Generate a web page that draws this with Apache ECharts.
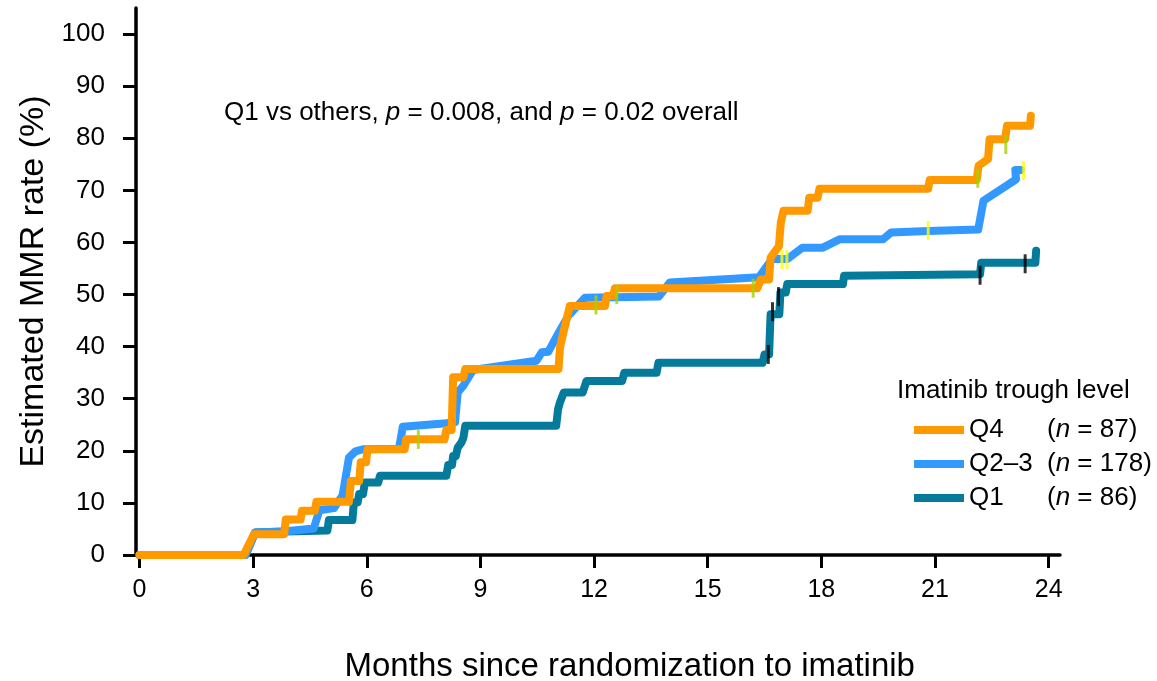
<!DOCTYPE html>
<html>
<head>
<meta charset="utf-8">
<script src="https://cdn.jsdelivr.net/npm/echarts@6.0.0/dist/echarts.min.js"></script>
<style>
  html, body { margin: 0; padding: 0; background: #fff; }
  #chart { width: 1157px; height: 681px; }
</style>
</head>
<body>
<div id="chart"></div>
<script>
// Cumulative MMR rate by imatinib trough-level quartile
const groups = ['Q4', 'Q2–3', 'Q1'];
const groupN = [87, 178, 86];
const xTicks = [0, 3, 6, 9, 12, 15, 18, 21, 24];
const yTicks = [0, 10, 20, 30, 40, 50, 60, 70, 80, 90, 100];

// Q4 curve (months, estimated MMR %)
const q4Months = [0, 2.75, 3.02, 3.82, 3.86, 4.25, 4.29, 4.63, 4.67, 5.53,
  5.58, 5.8, 5.84, 5.98, 6.02, 7.0, 7.04, 8.05, 8.1, 8.24,
  8.28, 8.55, 8.6, 11.06, 11.1, 11.2, 11.3, 11.36, 12.29, 12.33,
  12.5, 12.55, 16.31, 16.4, 16.62, 16.66, 16.88, 16.93, 17.0, 17.64,
  17.68, 17.9, 17.95, 20.82, 20.86, 22.1, 22.15, 22.4, 22.44, 22.85,
  22.9, 23.51, 23.53];
const q4Rates = [0, 0, 4.0, 4.0, 6.8, 6.8, 8.5, 8.5, 10.2, 10.2,
  14.2, 14.2, 17.8, 17.8, 20.3, 20.3, 22.2, 22.2, 24.0, 24.0,
  34.1, 34.1, 35.7, 35.7, 39.8, 43.0, 46.0, 47.8, 47.8, 49.7,
  49.7, 51.2, 51.2, 52.9, 52.9, 57.1, 59.3, 63.8, 66.1, 66.1,
  68.6, 68.6, 70.3, 70.3, 72.0, 72.0, 74.7, 76.0, 79.8, 79.8,
  82.4, 82.4, 84.3];

// Q2–3 curve
const q23Months = [0, 2.8, 3.05, 3.8, 4.6, 4.75, 5.13, 5.36, 5.53, 5.7,
  5.9, 6.85, 6.95, 8.1, 8.33, 8.4, 8.55, 8.8, 10.48, 10.62,
  10.79, 11.06, 11.32, 11.76, 13.71, 14.0, 16.35, 16.7, 17.1, 17.5,
  18.04, 18.48, 19.63, 19.84, 20.82, 22.14, 22.28, 23.14, 23.12, 23.27];
const q23Rates = [0, 0, 4.3, 4.5, 5.1, 8.6, 9.0, 11.4, 18.7, 19.9,
  20.3, 20.4, 24.6, 25.3, 25.5, 31.2, 32.5, 35.5, 37.3, 38.9,
  39.0, 42.6, 45.9, 49.4, 49.6, 52.3, 53.3, 56.8, 56.8, 59.0,
  59.0, 60.6, 60.6, 61.9, 62.2, 62.5, 68.0, 72.1, 73.9, 73.9];

// Q1 curve
const q1Months = [0, 2.8, 3.05, 3.85, 3.9, 4.96, 5.0, 5.62, 5.66, 5.76,
  5.8, 5.9, 5.95, 6.3, 6.35, 8.1, 8.15, 8.25, 8.28, 8.35,
  8.4, 8.5, 8.55, 8.6, 11.0, 11.05, 11.1, 11.2, 11.7, 11.8,
  12.74, 12.8, 13.65, 13.7, 16.45, 16.5, 16.62, 16.66, 16.89, 16.92,
  17.06, 17.1, 18.57, 18.6, 22.19, 22.22, 23.65, 23.67];
const q1Rates = [0, 0, 4.3, 4.5, 4.7, 4.7, 6.7, 6.7, 10.1, 10.1,
  11.7, 11.7, 13.9, 13.9, 15.2, 15.2, 17.3, 17.3, 19.0, 19.0,
  20.6, 21.6, 22.5, 24.8, 24.8, 28.0, 29.3, 31.2, 31.2, 33.4,
  33.4, 35.0, 35.0, 36.9, 36.9, 38.5, 38.5, 46.2, 46.2, 50.4,
  50.4, 52.0, 52.0, 53.6, 53.9, 56.1, 56.1, 58.4];

// Censored observations
const q4CensorMonths = [7.36, 12.05, 12.6, 16.2, 22.13, 22.87];
const q4CensorRates = [22.2, 48.0, 50.0, 51.2, 72.3, 78.8];
const q23CensorMonths = [16.96, 17.09, 20.82, 23.34];
const q23CensorRates = [56.7, 56.7, 62.3, 73.8];
const q1CensorMonths = [16.6, 16.71, 16.87, 22.19, 23.38];
const q1CensorRates = [38.5, 46.7, 49.6, 53.7, 55.9];

const FONT = '"Liberation Sans", Arial, Helvetica, sans-serif';
const COLORS = { 'Q4': '#ff9900', 'Q2–3': '#3399ff', 'Q1': '#057b9c' };
const pairs = (t, v) => t.map((m, i) => [m, v[i]]);

function curve(name, t, v) {
  return {
    name, type: 'line', data: pairs(t, v),
    showSymbol: false, symbol: 'none', silent: true,
    lineStyle: { color: COLORS[name], width: 8, join: 'round', cap: 'round' },
    itemStyle: { color: COLORS[name] }
  };
}
function censor(name, t, v, color) {
  return {
    name, type: 'scatter', data: pairs(t, v), z: 5, silent: true,
    symbol: 'rect', symbolSize: [3, 19],
    itemStyle: { color }
  };
}

const rt = (extra) => Object.assign({ fontFamily: FONT, fontSize: 26, fontWeight: 'normal', color: '#000' }, extra || {});

const chart = echarts.init(document.getElementById('chart'), null, { renderer: 'canvas' });
chart.setOption({
  animation: false,
  backgroundColor: '#ffffff',
  textStyle: { fontFamily: FONT, color: '#000' },
  title: [
    {
      left: 219, top: 95,
      text: '{r|Q1 vs others, }{i|p}{r| = 0.008, and }{i|p}{r| = 0.02 overall}',
      textStyle: {
        fontWeight: 'normal',
        rich: {
          r: rt({ fontSize: 26 }),
          i: rt({ fontSize: 26, fontStyle: 'italic' })
        }
      }
    },
    {
      left: 892, top: 373,
      text: 'Imatinib trough level',
      textStyle: rt({ fontSize: 26 })
    }
  ],
  legend: {
    data: groups,
    orient: 'vertical',
    left: 909, top: 412,
    itemWidth: 50, itemHeight: 8, itemGap: 8,
    icon: 'rect',
    selectedMode: false,
    formatter: name => {
      const k = groups.indexOf(name);
      return '{a|' + name + '}{b|(}{i|n}{b| = ' + groupN[k] + ')}';
    },
    textStyle: {
      fontFamily: FONT, fontSize: 26, color: '#000',
      rich: {
        a: rt({ width: 78, lineHeight: 28 }),
        b: rt({ lineHeight: 28 }),
        i: rt({ fontStyle: 'italic', lineHeight: 28 })
      }
    }
  },
  grid: { left: 139.5, right: 97, top: 8, bottom: 126, containLabel: false, outerBoundsMode: 'none' },
  xAxis: {
    type: 'value', min: 0, max: 24.3,
    name: 'Months since randomization to imatinib',
    nameLocation: 'middle', nameGap: 95,
    nameTextStyle: { fontFamily: FONT, fontSize: 33, color: '#000', padding: [0, 0, 0, 60] },
    axisLine: { show: true, onZero: false, lineStyle: { color: '#000', width: 3.5 } },
    axisTick: { show: true, customValues: xTicks, length: 13, inside: false, lineStyle: { color: '#000', width: 3 } },
    axisLabel: { customValues: xTicks, fontFamily: FONT, fontSize: 25, color: '#000', margin: 23 },
    splitLine: { show: false }
  },
  yAxis: {
    type: 'value', min: 0, max: 105, offset: 3.5,
    name: 'Estimated MMR rate (%)',
    nameLocation: 'middle', nameGap: 74, nameRotate: 90,
    nameTextStyle: { fontFamily: FONT, fontSize: 34, color: '#000' },
    axisLine: { show: true, onZero: false, lineStyle: { color: '#000', width: 3.5 } },
    axisTick: { show: true, customValues: yTicks, length: 13, lineStyle: { color: '#000', width: 3 } },
    axisLabel: { customValues: yTicks, fontFamily: FONT, fontSize: 26, color: '#000', margin: 31 },
    splitLine: { show: false }
  },
  series: [
    curve('Q1', q1Months, q1Rates),
    curve('Q2–3', q23Months, q23Rates),
    curve('Q4', q4Months, q4Rates),
    censor('Q4 censored', q4CensorMonths, q4CensorRates, '#a6d100'),
    censor('Q2–3 censored', q23CensorMonths, q23CensorRates, '#ffff00'),
    censor('Q1 censored', q1CensorMonths, q1CensorRates, '#000000')
  ]
});
</script>
</body>
</html>
